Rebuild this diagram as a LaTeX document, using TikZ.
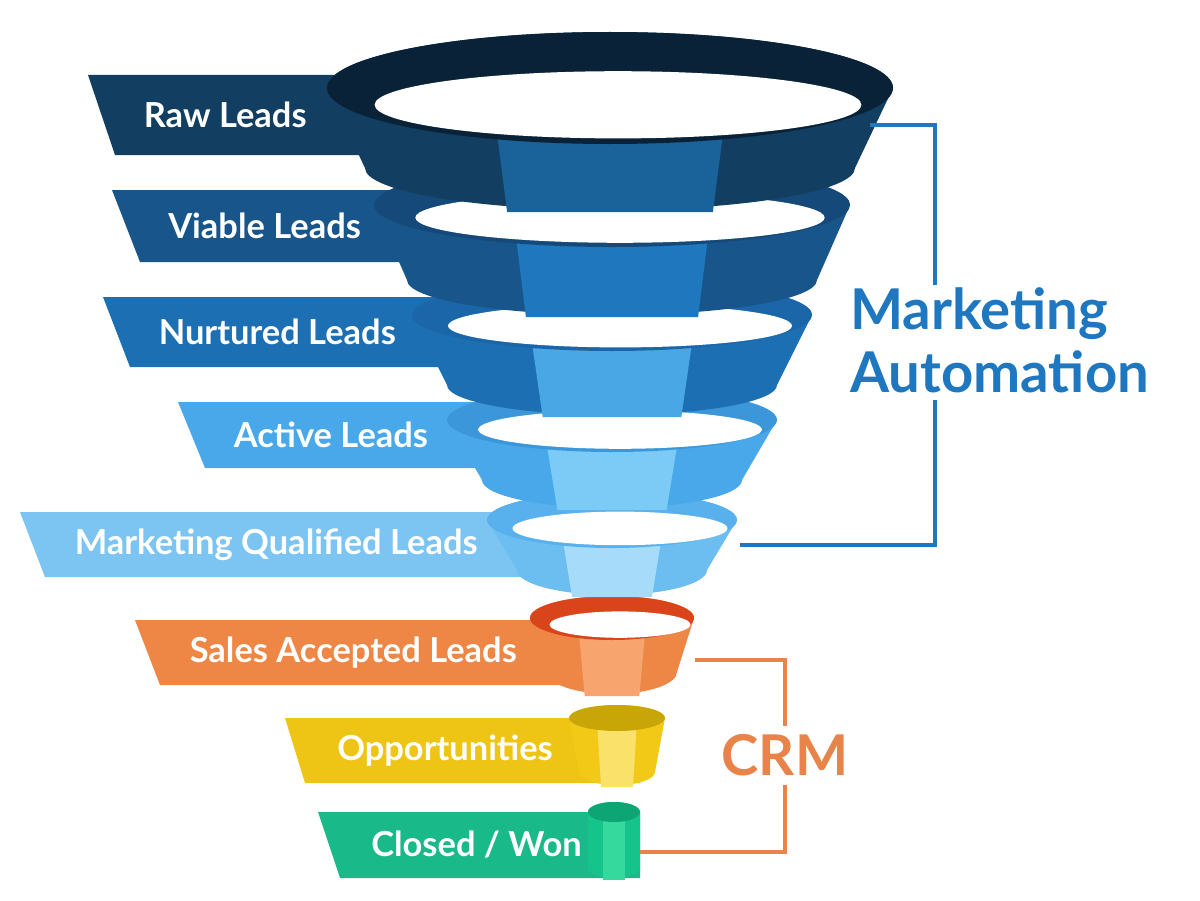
\documentclass[tikz,border=0pt]{standalone}
\usepackage{fontspec}
\setmainfont{Lato}
\usetikzlibrary{positioning}
\definecolor{mablue}{HTML}{1F77C0}
\definecolor{crmorange}{HTML}{E8834A}
% banner: top-left x, bottom-left x, top y, bottom y, colour (hex), text, name
\newcommand{\banner}[7]{%
  \definecolor{bcol}{HTML}{#5}%
  \fill[bcol] (#1,#3) -- (640,#3) -- (640,#4) -- (#2,#4) -- cycle;
  \node[bantext, anchor=west] (#7) at ({(#1+#2)/2+42},{(#3+#4)/2}) {#6};}
% layer colours: body, panel, rim
\newcommand{\lcol}[3]{\definecolor{lbody}{HTML}{#1}\definecolor{lpanel}{HTML}{#2}\definecolor{lrim}{HTML}{#3}}
% funnel layer: cx, top y, top rx, top ry, bottom y, bottom rx, bottom ry, hole?
\newcommand{\layer}[8]{%
  \fill[lbody] (#1-#3,#2) -- (#1-#6,#5) arc[start angle=180, end angle=0, x radius=#6, y radius=#7]
    -- (#1+#3,#2) arc[start angle=0, end angle=-180, x radius=#3, y radius=#4] -- cycle;
  \fill[lpanel] ({#1-0.42*#3},#2) -- ({#1+0.42*#3},#2) -- ({#1+0.42*#6},{#5+#7+2}) -- ({#1-0.42*#6},{#5+#7+2}) -- cycle;
  \fill[lrim] (#1,#2) ellipse[x radius=#3, y radius=#4];
  \ifnum#8=1 \fill[white] (#1+8,{#2+0.3*#4}) ellipse[x radius={0.86*#3}, y radius={0.6*#4}];\fi}
\begin{document}
\begin{tikzpicture}[x=0.025cm, y=-0.025cm,
    bantext/.style={text=white, font=\bfseries\fontsize{24.5}{26}\selectfont, inner sep=0pt},
    bigtext/.style={font=\bfseries\fontsize{40}{45}\selectfont, align=left, inner sep=0pt},
    bracket/.style={line width=2.2pt}
  ]
  \useasboundingbox (0,0) rectangle (1200,900);

  % banners
  \banner{88}{115}{75}{155}{123E62}{Raw Leads}{raw}
  \banner{112}{140}{190}{262}{17558A}{Viable Leads}{viable}
  \banner{103}{130}{297}{367}{1D6FB3}{Nurtured Leads}{nurtured}
  \banner{178}{205}{402}{468}{48A8EA}{Active Leads}{active}
  \banner{20}{45}{512}{577}{7CC4F2}{Marketing Qualified Leads}{mql}
  \banner{135}{160}{620}{685}{EE8645}{Sales Accepted Leads}{sal}
  \banner{285}{305}{718}{783}{EEC514}{Opportunities}{opp}
  \banner{318}{340}{812}{878}{1AB98A}{Closed / Won}{won}

  % funnel, bottom layer first
  \lcol{14C48A}{35D99E}{0EA575}\layer{614}{812}{26}{10}{868}{26}{10}{0}
  \lcol{F3C917}{FAE26A}{C9A608}\layer{617}{718}{48}{13}{772}{38}{13}{0}
  \lcol{EE8645}{F8A46E}{D9441A}\layer{612}{618}{82}{22}{672}{65}{22}{1}
  \lcol{6CBEF1}{A6DCFA}{58B1EC}\layer{612}{520}{125}{28}{570}{95}{25}{1}
  \lcol{48A8EA}{7CCAF6}{3B97D9}\layer{612}{420}{165}{32}{480}{130}{28}{1}
  \lcol{1D6FB3}{49A7E6}{1B66A8}\layer{612}{315}{200}{36}{385}{165}{30}{1}
  \lcol{17558A}{1F78BE}{14497A}\layer{612}{205}{238}{42}{280}{205}{35}{1}
  \lcol{123E62}{19629A}{0A2238}\layer{610}{88}{283}{56}{168}{245}{42}{1}

  % brackets
  \node[bigtext, text=mablue, anchor=west] (ma) at (850,340) {Marketing\\Automation};
  \coordinate (ma1) at (870,125);
  \coordinate (ma2) at (740,545);
  \draw[bracket, mablue] (ma1) -- (935,125) -- (935,285);
  \draw[bracket, mablue] (935,400) -- (935,545) -- (ma2);
  \node[bigtext, text=crmorange] (crm) at (785,755) {CRM};
  \coordinate (crm1) at (695,660);
  \coordinate (crm2) at (640,852);
  \draw[bracket, crmorange] (crm1) -- (785,660) -- ([yshift=6pt]crm.north);
  \draw[bracket, crmorange] ([yshift=-6pt]crm.south) -- (785,852) -- (crm2);
\end{tikzpicture}
\end{document}
